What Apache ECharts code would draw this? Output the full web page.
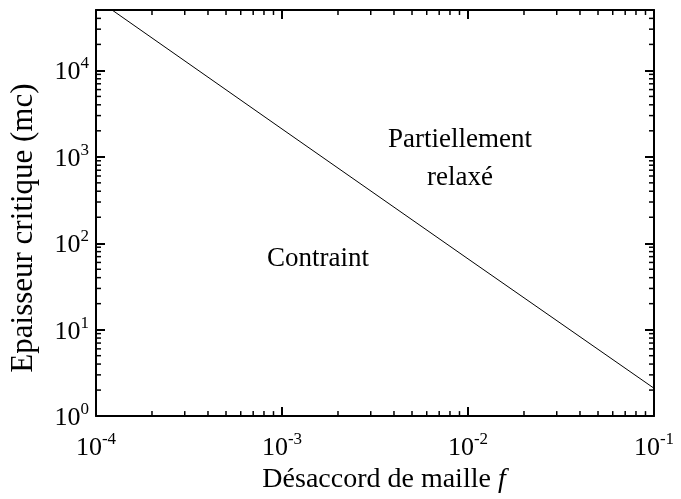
<!DOCTYPE html>
<html>
<head>
<meta charset="utf-8">
<script src="https://cdn.jsdelivr.net/npm/echarts@6/dist/echarts.min.js"></script>
<style>
  html, body { margin: 0; padding: 0; background: #fff; }
  #chart { width: 681px; height: 499px; }
</style>
</head>
<body>
<div id="chart"></div>
<script>
// courbe épaisseur critique vs désaccord
var mismatch = [1.22e-4, 1e-3, 1e-2, 0.1]
var thickness = [50000, 2100, 66, 2.1]

var xRange = [1e-4, 1e-1]
var yRange = [1, 50000]

// graduations secondaires 2..9 dans chaque décade
var minorX = []
var minorY = []
for (var d = -4; d < -1; d++) {
  for (var k = 2; k <= 9; k++) minorX.push(k * Math.pow(10, d))
}
for (var e = 0; e <= 4; e++) {
  for (var m = 2; m <= 9; m++) {
    var v = m * Math.pow(10, e)
    if (v <= yRange[1]) minorY.push(v)
  }
}

var FONT = '"Liberation Serif", "DejaVu Serif", serif'

function powLabel(val) {
  var ex = Math.round(Math.log10(val))
  return '{b|10}{s|' + ex + '}'
}
var richPow = {
  b: { fontFamily: FONT, fontSize: 26, color: '#000', lineHeight: 30, verticalAlign: 'bottom' },
  s: { fontFamily: FONT, fontSize: 17, color: '#000', lineHeight: 30, verticalAlign: 'top' }
}

var lineData = mismatch.map(function (x, i) { return [x, thickness[i]] })
var tickData = minorX.map(function (v) { return [v, 0] }).concat(minorY.map(function (v) { return [v, 1] }))

var axisLine = { show: true, lineStyle: { color: '#000', width: 2 } }
var majorTick = { show: true, inside: true, length: 9, lineStyle: { color: '#000', width: 2 } }

var option = {
  animation: false,
  backgroundColor: '#fff',
  grid: { left: 95, right: 27, top: 10, bottom: 81 },
  xAxis: [{
    type: 'log', logBase: 10, min: xRange[0], max: xRange[1], position: 'bottom',
    name: '{n|Désaccord de maille }{i|f}', nameLocation: 'middle', nameGap: 42,
    nameTextStyle: {
      padding: [0, 0, 0, 18],
      rich: {
        n: { fontFamily: FONT, fontSize: 28, color: '#000' },
        i: { fontFamily: FONT, fontSize: 28, color: '#000', fontStyle: 'italic' }
      }
    },
    axisLine: axisLine, axisTick: majorTick, splitLine: { show: false },
    axisLabel: { margin: 15, formatter: powLabel, rich: richPow }
  }, {
    type: 'log', logBase: 10, min: xRange[0], max: xRange[1], position: 'top',
    axisLine: axisLine, axisTick: majorTick, splitLine: { show: false },
    axisLabel: { show: false }
  }],
  yAxis: [{
    type: 'log', logBase: 10, min: yRange[0], max: yRange[1], position: 'left',
    name: 'Epaisseur critique (mc)', nameLocation: 'middle', nameGap: 57,
    nameTextStyle: { fontFamily: FONT, fontSize: 31, color: '#000', padding: [0, 30, 0, 0] },
    axisLine: axisLine, axisTick: majorTick, splitLine: { show: false },
    axisLabel: { margin: 7, showMaxLabel: false, formatter: powLabel, rich: richPow }
  }, {
    type: 'log', logBase: 10, min: yRange[0], max: yRange[1], position: 'right',
    axisLine: axisLine, axisTick: majorTick, splitLine: { show: false },
    axisLabel: { show: false }
  }],
  graphic: [
    { type: 'text', left: 267, top: 245, style: { text: 'Contraint', font: '27px ' + FONT, fill: '#000' } },
    { type: 'text', left: 388, top: 126, style: { text: 'Partiellement', font: '27px ' + FONT, fill: '#000' } },
    { type: 'text', left: 427, top: 164, style: { text: 'relaxé', font: '27px ' + FONT, fill: '#000' } }
  ],
  series: [{
    type: 'line',
    data: lineData,
    symbol: 'none',
    lineStyle: { color: '#000', width: 1 },
    z: 3
  }, {
    type: 'custom',
    data: tickData,
    silent: true,
    clip: false,
    renderItem: function (params, api) {
      var cs = params.coordSys
      var v = api.value(0)
      var len = 5
      var style = { stroke: '#000', lineWidth: 1.5 }
      if (api.value(1) === 0) {
        var px = api.coord([v, yRange[0]])[0]
        return { type: 'group', children: [
          { type: 'line', shape: { x1: px, y1: cs.y + cs.height, x2: px, y2: cs.y + cs.height - len }, style: style },
          { type: 'line', shape: { x1: px, y1: cs.y, x2: px, y2: cs.y + len }, style: style }
        ] }
      }
      var py = api.coord([xRange[0], v])[1]
      return { type: 'group', children: [
        { type: 'line', shape: { x1: cs.x, y1: py, x2: cs.x + len, y2: py }, style: style },
        { type: 'line', shape: { x1: cs.x + cs.width, y1: py, x2: cs.x + cs.width - len, y2: py }, style: style }
      ] }
    }
  }]
}

var myChart = echarts.init(document.getElementById('chart'))
myChart.setOption(option)
</script>
</body>
</html>
